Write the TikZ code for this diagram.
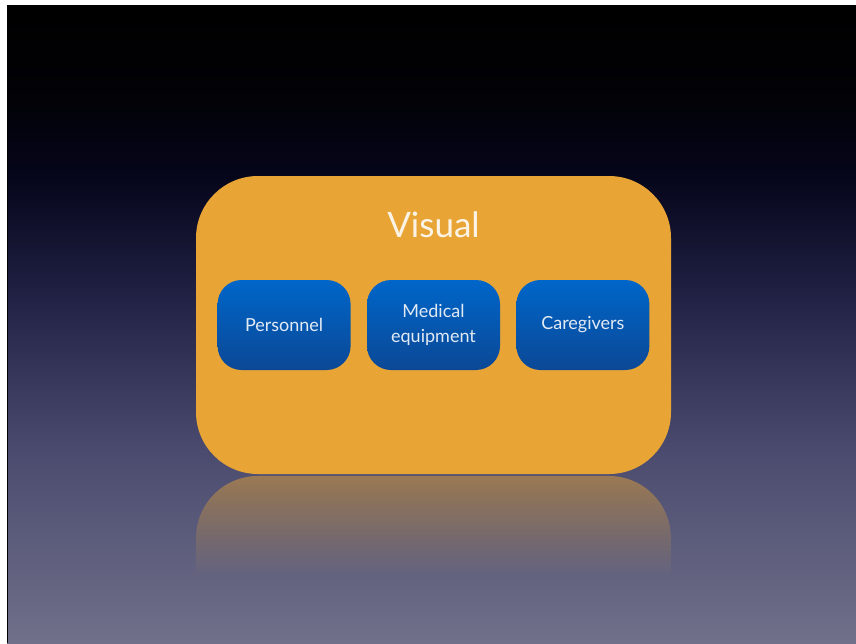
\documentclass[tikz,border=0pt]{standalone}
\usepackage{fontspec}
\setmainfont{Lato}
\usetikzlibrary{positioning,fadings}

\definecolor{slideorange}{HTML}{E8A535}
\definecolor{itemtop}{HTML}{0066C9}
\definecolor{itembottom}{HTML}{0B4896}
\definecolor{itemtext}{HTML}{E2EAF4}
\definecolor{titletext}{HTML}{FBF4E6}
\definecolor{bgA}{HTML}{020207}
\definecolor{bgB}{HTML}{06061C}
\definecolor{bgC}{HTML}{212245}
\definecolor{bgD}{HTML}{4B4B6F}
\definecolor{bgE}{HTML}{70708A}

% slide background, top black to grey-violet
\pgfdeclareverticalshading{slidebg}{100bp}{color(0bp)=(bgE); color(25bp)=(bgE);
  color(40bp)=(bgD); color(52bp)=(bgC); color(61.3bp)=(bgB);
  color(67.5bp)=(bgA); color(75bp)=(black); color(100bp)=(black)}

% fades out over the upper part, nothing left below
\begin{tikzfadingfrompicture}[name=mirrorfade]
  \shade[top color=transparent!45, bottom color=transparent!100]
    (0,0) rectangle (2,-1.2);
  \fill[transparent!100] (0,-1.2) rectangle (2,-2);
\end{tikzfadingfrompicture}

\tikzset{
  panel/.style={fill=slideorange, rounded corners=62pt, inner sep=0pt,
    minimum width=475pt, minimum height=298pt},
  item/.style={rounded corners=24pt, top color=itemtop, bottom color=itembottom,
    minimum width=133pt, minimum height=90pt, inner sep=0pt, align=center,
    text=itemtext, font=\fontsize{18}{25}\selectfont},
  title/.style={text=titletext, font=\fontsize{35}{40}\selectfont},
}

\begin{document}
\begin{tikzpicture}[x=1pt,y=-1pt]
  \useasboundingbox (0,0) rectangle (856,643);
  \clip (0,0) rectangle (856,643);
  \fill[white] (0,0) rectangle (856,643);
  \shade[shading=slidebg] (7,5) rectangle (856,643);
  \draw[black, line width=1.2pt] (7.6,5) -- (7.6,643);

  % reflection under the panel
  \fill[slideorange, path fading=mirrorfade, fit fading=true]
    (196,640) [rounded corners=62pt] -- (196,476) -- (671,476)
    [sharp corners] -- (671,640) -- cycle;

  \node[panel] (visual) at (433.5,325) {};
  \node[title] (heading) at (433.5,225) {Visual};

  \node[item] (equipment) at (433.5,325) {Medical\\equipment};
  \node[item, left=16pt of equipment] (personnel) {Personnel};
  \node[item, right=16pt of equipment] (caregivers) {Caregivers};
\end{tikzpicture}
\end{document}
